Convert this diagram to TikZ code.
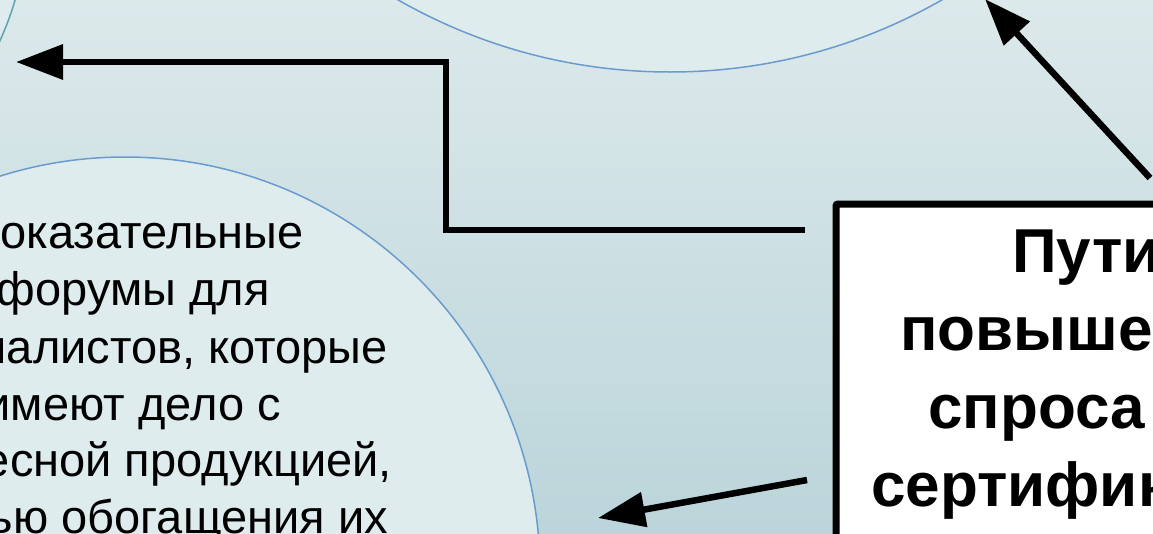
\documentclass[tikz,border=0pt]{standalone}
\usepackage{fontspec}
\setmainfont{Liberation Sans}
\usetikzlibrary{arrows.meta}
\definecolor{bgtop}{HTML}{DCE9EB}
\definecolor{bgbot}{HTML}{BBD5DA}
\definecolor{circfill}{HTML}{DEECED}
\definecolor{circline}{HTML}{6A9BCF}
\definecolor{tealline}{HTML}{5FA3AD}
\tikzset{
  bubble/.style={circle, fill=circfill, draw=circline, line width=1.5pt, inner sep=0pt},
  conn/.style={line width=6.5pt, -{Triangle[length=47pt,width=34pt]}},
  boxstyle/.style={draw=black, fill=white, line width=7pt, rounded corners=2pt},
  boxtext/.style={font=\bfseries\fontsize{62}{76}\selectfont, anchor=base west, inner sep=0pt},
  circtext/.style={font=\fontsize{47}{57}\selectfont, anchor=base east, inner sep=0pt}
}
\begin{document}
\begin{tikzpicture}[x=1pt,y=-1pt]
\useasboundingbox (0,0) rectangle (1153,533);
\clip (0,0) rectangle (1153,533);
\shade[top color=bgtop, bottom color=bgbot] (0,0) rectangle (1153,533);
% partial circle top-left
\node[bubble, draw=tealline, minimum size=600pt] (tlc) at (-273,-84) {};
% top circle
\node[bubble, minimum size=1096pt] (topc) at (670,-476) {};
% lower-left circle
\node[bubble, minimum size=830pt] (leftc) at (125,572) {};
% text in lower-left circle
\node[circtext] (l1) at (304,248) {оказательные};
\node[circtext] (l2) at (270,305) {форумы для};
\node[circtext] (l3) at (388,363) {иалистов, которые};
\node[circtext] (l4) at (281,420) {имеют дело с};
\node[circtext] (l5) at (392,476) {есной продукцией,};
\node[circtext] (l6) at (388,533) {ью обогащения их};
% box
\draw[boxstyle] (836,204) rectangle (1200,600);
\node[inner sep=0pt, minimum width=364pt, minimum height=396pt] (box) at (1018,402) {};
\node[boxtext] (t1) at (1012,272) {Пути};
\node[boxtext] (t2) at (900,350) {повыше};
\node[boxtext] (t3) at (928,428) {спроса};
\node[boxtext] (t4) at (871,506) {сертифик};
% connectors
\coordinate (s1) at (805,230);
\coordinate (bend1) at (446,230);
\coordinate (bend2) at (446,62);
\coordinate (e1) at (16,62);
\draw[conn] (s1) -- (bend1) -- (bend2) -- (e1);
\coordinate (s2) at (807,480);
\coordinate (e2) at (598,518);
\draw[conn] (s2) -- (e2);
\coordinate (s3) at (1150,178);
\coordinate (e3) at (985,-1);
\draw[conn] (s3) -- (e3);
\end{tikzpicture}
\end{document}
